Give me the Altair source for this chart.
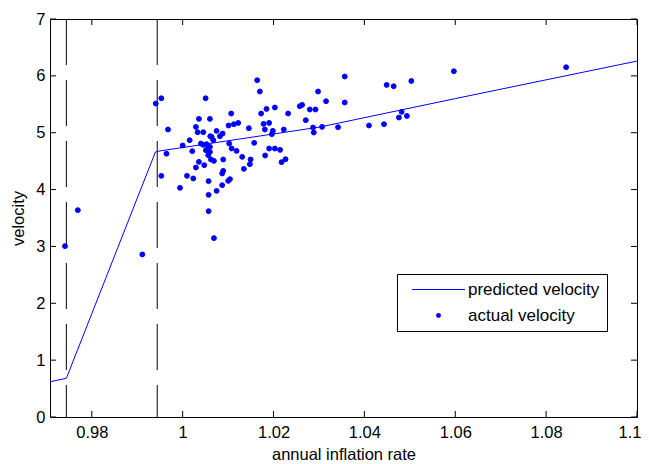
import altair as alt
import pandas as pd

# predicted velocity (piecewise curve)
pred_x = [0.9708, 0.9744, 0.9940, 0.9950, 1.0126, 1.0302, 1.0600, 1.1000]
pred_y = [0.62, 0.68, 4.66, 4.68, 4.89, 5.10, 5.60, 6.26]

# actual velocity (scatter)
act_x = [0.9741, 0.97692, 0.99112, 0.99407, 0.99530, 0.99530, 0.99644, 0.99677, 0.99941,
         1.00000, 1.00095, 1.00154, 1.00211, 1.00233, 1.00292, 1.00292, 1.00330, 1.00358,
         1.00358, 1.00402, 1.00453, 1.00453, 1.00475, 1.00505, 1.00512, 1.00527, 1.00563,
         1.00571, 1.00571, 1.00571, 1.00600, 1.00600, 1.00600, 1.00607, 1.00563, 1.00622,
         1.00637, 1.00673, 1.00688, 1.00688, 1.00747, 1.00747, 1.00820, 1.00870, 1.00870,
         1.00879, 1.00892, 1.00892, 1.01002, 1.01011, 1.01024, 1.01040, 1.01068, 1.01077,
         1.01127, 1.01187, 1.01222, 1.01310, 1.01347, 1.01457, 1.01479, 1.01495, 1.01574,
         1.01640, 1.01699, 1.01727, 1.01780, 1.01809, 1.01815, 1.01846, 1.01903, 1.01903,
         1.01963, 1.01985, 1.02029, 1.02029, 1.02145, 1.02176, 1.02226, 1.02264, 1.02321,
         1.02578, 1.02629, 1.02710, 1.02798, 1.02923, 1.02870, 1.02886, 1.02980, 1.03068,
         1.03156, 1.03420, 1.03567, 1.03567, 1.04101, 1.04431, 1.04490, 1.04644, 1.04760,
         1.04820, 1.04936, 1.05033, 1.05969, 1.08440]
act_y = [3.005, 3.638, 2.859, 5.513, 5.606, 4.241, 4.631, 5.056, 4.030,
         4.775, 4.241, 4.868, 4.675, 4.195, 5.102, 4.388, 5.009, 5.243,
         4.487, 4.810, 5.009, 4.786, 4.429, 5.606, 4.692, 4.798, 4.722,
         4.148, 3.907, 3.620, 5.243, 4.750, 4.663, 4.938, 4.605, 4.529,
         4.926, 4.868, 4.504, 3.146, 5.032, 3.977, 4.938, 4.283, 4.077,
         4.986, 4.529, 4.329, 4.153, 5.127, 4.810, 4.183, 5.337, 4.722,
         5.149, 4.680, 5.172, 4.575, 4.364, 5.079, 4.446, 4.529, 4.821,
         5.923, 5.724, 5.337, 5.155, 5.056, 4.599, 5.418, 5.172, 4.722,
         4.974, 5.032, 5.443, 4.722, 4.698, 4.482, 5.056, 4.534, 5.337,
         5.466, 5.489, 5.220, 5.408, 5.408, 5.091, 5.003, 5.724, 5.102,
         5.554, 5.097, 5.988, 5.531, 5.127, 5.149, 5.840, 5.817, 5.267,
         5.366, 5.295, 5.910, 6.081, 6.151]

thresholds = [0.9744, 0.9944]
x_ticks = [0.98, 1.0, 1.02, 1.04, 1.06, 1.08, 1.1]
y_ticks = [0, 1, 2, 3, 4, 5, 6, 7]
series = ["predicted velocity", "actual velocity"]

W, H = 587, 398
FONT = "Liberation Sans"
FS = 16.5
LFS = 17
TICK = 6
BLUE = "#0000ff"
LINE_SYMBOL = "M-5.3,-0.11L5.3,-0.11L5.3,0.11L-5.3,0.11Z"

pred_df = pd.DataFrame({"x": pred_x, "y": pred_y})
act_df = pd.DataFrame({"x": act_x, "y": act_y, "series": "actual velocity"})
thr_df = pd.DataFrame({"x": thresholds})
xt_df = pd.DataFrame({"x": x_ticks})
yt_df = pd.DataFrame({"y": y_ticks})

xscale = alt.Scale(domain=[0.9708, 1.1], nice=False, zero=False)
yscale = alt.Scale(domain=[0, 7], nice=False, zero=False)

xaxis = alt.Axis(values=x_ticks, format="~g", title="annual inflation rate",
                 ticks=False, domain=False, grid=False, labelPadding=7,
                 titlePadding=6, labelFlush=True, labelFlushOffset=4,
                 labelFont=FONT, labelFontSize=FS, labelColor="black",
                 titleFont=FONT, titleFontSize=FS, titleColor="black",
                 titleFontWeight="normal")
yaxis = alt.Axis(values=y_ticks, format="d", title="velocity", ticks=False,
                 domain=False, grid=False, labelPadding=5, titlePadding=9,
                 labelFont=FONT, labelFontSize=FS, labelColor="black",
                 titleFont=FONT, titleFontSize=FS, titleColor="black",
                 titleFontWeight="normal")

thr = alt.Chart(thr_df).mark_rule(color="black", strokeWidth=1, strokeDash=[46, 15]).encode(
    x=alt.X("x:Q", scale=xscale, axis=xaxis)
)

line = alt.Chart(pred_df).mark_line(color=BLUE, strokeWidth=1, clip=True).encode(
    x=alt.X("x:Q", scale=xscale, axis=xaxis),
    y=alt.Y("y:Q", scale=yscale, axis=yaxis),
)

legend = alt.Legend(title=None, orient="none", legendX=347, legendY=255,
                    padding=7, strokeColor="black", fillColor="white",
                    rowPadding=8, symbolOffset=26,
                    labelOffset=21, labelFont=FONT, labelFontSize=LFS,
                    labelColor="black", symbolStrokeWidth=0,
                    symbolFillColor=BLUE, cornerRadius=0)

pts = alt.Chart(act_df).mark_point(filled=True, fill=BLUE, stroke=BLUE, strokeWidth=1,
                                   opacity=1).encode(
    x=alt.X("x:Q", scale=xscale, axis=xaxis),
    y=alt.Y("y:Q", scale=yscale, axis=yaxis),
    shape=alt.Shape("series:N",
                    scale=alt.Scale(domain=series, range=[LINE_SYMBOL, "circle"]),
                    legend=legend),
    size=alt.Size("series:N", scale=alt.Scale(domain=series, range=[100, 24]),
                  legend=legend),
)

bt = alt.Chart(xt_df).mark_rule(color="black").encode(
    x=alt.X("x:Q", scale=xscale), y=alt.value(H), y2=alt.value(H - TICK))
tt = alt.Chart(xt_df).mark_rule(color="black").encode(
    x=alt.X("x:Q", scale=xscale), y=alt.value(0), y2=alt.value(TICK))
lt = alt.Chart(yt_df).mark_rule(color="black").encode(
    y=alt.Y("y:Q", scale=yscale), x=alt.value(0), x2=alt.value(TICK))
rt = alt.Chart(yt_df).mark_rule(color="black").encode(
    y=alt.Y("y:Q", scale=yscale), x=alt.value(W), x2=alt.value(W - TICK))

chart = alt.layer(thr, line, pts, bt, tt, lt, rt).properties(
    width=W, height=H,
    background="white",
    autosize=alt.AutoSizeParams(type="none"),
    padding={"left": 42, "top": 11, "right": 4, "bottom": 45},
).configure_view(
    stroke="black", strokeWidth=1
).configure_axis(
    labelFont=FONT, labelFontSize=FS, labelColor="black",
    titleFont=FONT, titleFontSize=FS, titleColor="black", titleFontWeight="normal",
)

chart.save("out.html", embed_options={"renderer": "svg", "actions": False})
